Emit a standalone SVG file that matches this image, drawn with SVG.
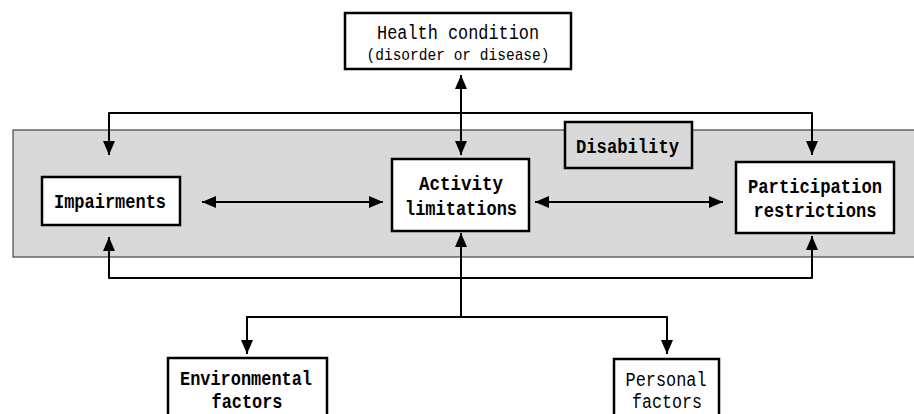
<svg xmlns="http://www.w3.org/2000/svg" width="914" height="414" viewBox="0 0 914 414">
<defs>
<marker id="ah" viewBox="0 0 14 12" refX="14" refY="6" markerWidth="14" markerHeight="12" markerUnits="userSpaceOnUse" orient="auto-start-reverse">
<path d="M0,0 L14,6 L0,12 z" fill="#000"/>
</marker>
</defs>
<style>
.box{fill:#fff;stroke:#000;stroke-width:2.5}
.t{font-family:"Liberation Mono","DejaVu Sans Mono",monospace;font-size:20px;fill:#000;text-anchor:middle}
.s{font-size:17px}
.b{font-weight:bold}
.c{fill:none;stroke:#000;stroke-width:2;stroke-linejoin:round}
</style>
<rect id="disability-band" x="13" y="130" width="910" height="127" fill="#d9d9d9" stroke="#444" stroke-width="1.2"/>
<g id="connectors">
<path class="c" d="M109,155 V113 H812 V155" marker-start="url(#ah)" marker-end="url(#ah)"/>
<path class="c" d="M461,75 V155" marker-start="url(#ah)" marker-end="url(#ah)"/>
<path class="c" d="M109,237 V278 H812 V236" marker-start="url(#ah)" marker-end="url(#ah)"/>
<path class="c" d="M461,317 V233" marker-end="url(#ah)"/>
<path class="c" d="M247,354 V317 H667 V354" marker-start="url(#ah)" marker-end="url(#ah)"/>
<path class="c" d="M202,202 H383" marker-start="url(#ah)" marker-end="url(#ah)"/>
<path class="c" d="M535,202 H723" marker-start="url(#ah)" marker-end="url(#ah)"/>
</g>
<g id="health">
<rect class="box" x="345" y="13" width="226" height="56"/>
<text class="t" x="458" y="39" textLength="162" lengthAdjust="spacingAndGlyphs">Health condition</text>
<text class="t s" x="458" y="60" textLength="183" lengthAdjust="spacingAndGlyphs">(disorder or disease)</text>
</g>
<g id="disability">
<rect x="565" y="122" width="127" height="46" fill="#d9d9d9" stroke="#000" stroke-width="2.5"/>
<text class="t b" x="627.5" y="153" textLength="103" lengthAdjust="spacingAndGlyphs">Disability</text>
</g>
<g id="impairments">
<rect class="box" x="42" y="177" width="138" height="48"/>
<text class="t b" x="110" y="208" textLength="112" lengthAdjust="spacingAndGlyphs">Impairments</text>
</g>
<g id="activity">
<rect class="box" x="392" y="159" width="137" height="72"/>
<text class="t b" x="461" y="190" textLength="84" lengthAdjust="spacingAndGlyphs">Activity</text>
<text class="t b" x="461" y="215" textLength="112" lengthAdjust="spacingAndGlyphs">limitations</text>
</g>
<g id="participation">
<rect class="box" x="736" y="162" width="158" height="71"/>
<text class="t b" x="815" y="193" textLength="134" lengthAdjust="spacingAndGlyphs">Participation</text>
<text class="t b" x="815" y="217" textLength="123" lengthAdjust="spacingAndGlyphs">restrictions</text>
</g>
<g id="environmental">
<rect class="box" x="168" y="358" width="159" height="70"/>
<text class="t b" x="246" y="385" textLength="132" lengthAdjust="spacingAndGlyphs">Environmental</text>
<text class="t b" x="247" y="408" textLength="71" lengthAdjust="spacingAndGlyphs">factors</text>
</g>
<g id="personal">
<rect class="box" x="614" y="359" width="105" height="70"/>
<text class="t" x="666" y="386" textLength="81" lengthAdjust="spacingAndGlyphs">Personal</text>
<text class="t" x="667" y="408" textLength="70" lengthAdjust="spacingAndGlyphs">factors</text>
</g>
</svg>
